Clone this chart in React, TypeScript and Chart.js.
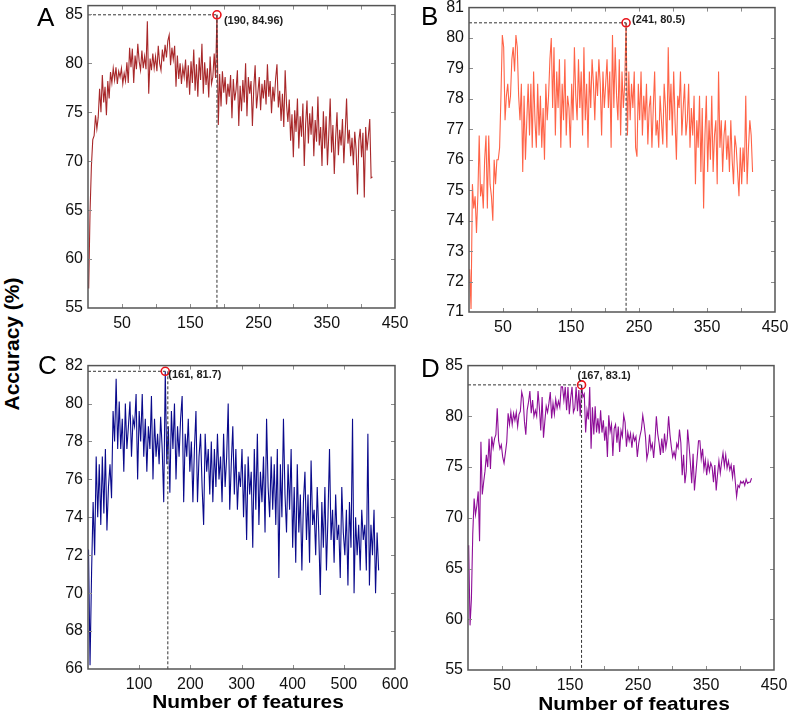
import React, { useEffect, useRef } from 'react';
import { Chart, registerables } from 'chart.js';

Chart.register(...registerables);

// ---------------- DATA ----------------
// Panel A: accuracy (%) per number of features (features = 1, 3, 5, ...)
const featureStartA = 1;
const featureStepA = 2;
const accuracyA = [
  57.0, 64.8, 69.5, 72.2, 72.6, 74.7, 73.3, 74.5, 77.4, 75.0,
  78.8, 76.0, 77.6, 74.7, 78.2, 76.4, 79.1, 78.0, 79.5, 78.3,
  79.6, 77.9, 79.2, 78.6, 79.5, 77.9, 79.0, 78.2, 80.1, 78.0,
  81.6, 79.6, 81.5, 78.0, 80.8, 79.4, 82.0, 80.2, 79.3, 81.3,
  79.5, 80.7, 79.4, 84.3, 76.9, 80.5, 79.3, 81.0, 79.5, 80.7,
  79.2, 81.8, 80.0, 79.3, 81.4, 80.2, 81.9, 80.6, 82.3, 82.9,
  79.8, 81.6, 80.4, 81.8, 77.6, 80.8, 78.4, 80.0, 77.9, 79.6,
  78.6, 80.4, 77.5, 79.8, 76.8, 80.2, 78.0, 81.4, 77.2, 79.9,
  76.6, 80.6, 78.3, 82.0, 76.9, 80.1, 77.8, 79.5, 76.5, 80.7,
  77.9, 78.6, 81.0, 78.5, 84.96, 73.7, 78.9, 75.6, 79.2, 77.0,
  78.6, 75.8, 77.9, 76.6, 78.8, 74.4, 78.4, 76.2, 77.3, 79.3,
  73.6, 77.7, 75.1, 78.3, 76.0, 80.0, 74.6, 78.6, 76.9, 78.2,
  73.6, 77.5, 79.8, 75.4, 77.0, 78.6, 75.2, 77.9, 76.4, 78.3,
  75.8, 79.9, 76.6, 78.2, 74.9, 77.6, 76.1, 78.4, 79.9, 75.5,
  77.2, 74.1, 76.9, 73.5, 79.3, 75.8, 74.0, 76.3, 72.1, 74.8,
  70.4, 75.2, 73.0, 76.4, 71.3, 74.6, 72.5, 75.9, 69.5, 73.8,
  76.2, 71.8, 74.9, 72.7, 75.6, 70.5, 74.2, 72.0, 76.6, 71.6,
  73.5, 69.5, 75.1, 71.3, 74.6, 69.6, 72.8, 76.4, 70.9, 73.7,
  68.7, 72.4, 75.0, 70.6, 73.2, 71.6, 74.3, 69.8, 72.9, 76.4,
  71.8, 73.2, 70.5, 72.4, 69.6, 73.0, 71.2, 66.6, 72.1, 73.3,
  70.4, 72.9, 66.3, 73.5, 71.1, 72.6, 74.3, 68.3, 68.4,
];

// Panel B
const featureStartB = 1;
const featureStepB = 2;
const accuracyB = [
  72.4, 71.1, 75.2, 74.4, 74.8, 73.6, 74.8, 76.8, 74.8, 75.2,
  74.4, 76.0, 76.8, 74.4, 76.8, 75.2, 74.8, 74.0, 76.0, 75.2,
  76.0, 76.0, 76.4, 78.1, 80.1, 79.7, 77.3, 78.1, 78.5, 77.7,
  78.1, 79.3, 79.7, 78.9, 80.1, 79.7, 78.1, 77.3, 78.5, 75.6,
  78.1, 76.0, 77.3, 78.5, 76.8, 78.5, 76.4, 78.9, 77.3, 76.4,
  78.5, 76.8, 78.1, 76.4, 77.7, 76.0, 78.5, 77.3, 78.1, 79.3,
  80.0, 77.7, 79.7, 76.8, 78.9, 77.7, 79.3, 76.4, 78.5, 77.3,
  79.3, 76.8, 78.1, 77.7, 76.4, 78.5, 77.3, 79.7, 78.1, 77.3,
  79.3, 77.7, 78.9, 76.8, 79.7, 77.3, 78.5, 76.4, 78.9, 77.7,
  79.3, 78.5, 77.3, 78.9, 78.1, 79.3, 78.5, 76.8, 78.9, 77.7,
  78.5, 79.3, 77.7, 78.9, 76.4, 80.1, 77.7, 79.7, 78.1, 77.3,
  79.3, 76.8, 78.9, 77.7, 78.5, 80.5, 76.8, 78.9, 77.3, 78.5,
  77.7, 78.9, 76.4, 76.1, 78.5, 77.3, 78.9, 76.8, 78.1, 77.3,
  78.5, 76.5, 77.7, 78.1, 76.4, 77.7, 78.9, 76.8, 77.3, 76.4,
  78.1, 77.3, 76.5, 78.5, 77.7, 76.4, 79.7, 77.3, 78.5, 76.8,
  78.9, 77.3, 76.0, 78.1, 77.7, 78.9, 76.8, 77.7, 78.5, 76.8,
  77.3, 78.5, 76.4, 77.7, 76.8, 78.1, 75.2, 77.3, 76.4, 78.1,
  75.6, 77.7, 74.4, 76.8, 78.1, 75.6, 77.3, 76.0, 78.1, 75.6,
  76.8, 77.3, 75.2, 78.9, 76.4, 77.3, 75.6, 76.8, 77.3, 76.0,
  76.8, 75.6, 77.3, 76.0, 75.2, 76.8, 76.4, 75.6, 74.8, 76.4,
  75.2, 76.4, 75.6, 78.1, 75.2, 76.4, 77.3, 76.8, 75.6,
];

// Panel C (features = 1, 4, 7, ...)
const featureStartC = 1;
const featureStepC = 3;
const accuracyC = [
  72.3, 66.2, 71.1, 74.8, 72.0, 77.2, 74.0, 76.8, 73.6, 77.2,
  74.2, 77.6, 73.3, 75.6, 76.8, 75.0, 79.6, 78.0, 81.3, 77.6,
  80.1, 77.6, 79.2, 76.4, 80.0, 77.6, 78.8, 80.1, 77.2, 79.2,
  78.8, 80.5, 76.0, 79.6, 78.0, 80.5, 77.2, 79.2, 76.4, 78.8,
  77.6, 80.4, 76.0, 79.2, 77.2, 78.4, 76.8, 79.3, 77.6, 74.8,
  81.7, 76.8, 78.8, 75.3, 79.6, 77.6, 80.0, 76.0, 78.8, 77.2,
  79.2, 80.4, 74.8, 78.4, 77.2, 79.2, 76.4, 78.0, 74.8, 77.6,
  79.6, 74.8, 77.2, 78.4, 75.6, 73.6, 78.4, 76.4, 77.6, 75.2,
  78.0, 74.8, 77.6, 75.6, 78.4, 76.0, 77.2, 74.8, 78.4, 75.6,
  77.2, 80.0, 74.4, 76.8, 78.8, 75.2, 77.6, 74.4, 76.4, 75.6,
  77.6, 74.0, 76.8, 72.8, 77.2, 75.2, 76.4, 72.4, 77.6, 74.4,
  78.4, 73.6, 76.4, 74.8, 77.2, 73.2, 79.2, 75.6, 74.0, 77.2,
  74.4, 76.8, 73.6, 77.6, 70.8, 76.8, 74.0, 79.2, 75.2, 73.2,
  76.8, 74.4, 77.6, 72.4, 75.6, 71.6, 76.8, 73.2, 75.2, 71.2,
  74.8, 76.4, 72.8, 75.2, 71.6, 77.0, 73.6, 74.4, 72.0, 75.6,
  73.2, 69.9, 74.8, 72.4, 75.6, 71.2, 74.0, 77.6, 72.8, 74.4,
  71.6, 75.2, 72.8, 73.6, 70.8, 75.6, 73.2, 72.0, 74.4, 70.4,
  74.8, 72.4, 79.2, 70.0, 74.0, 72.0, 73.6, 71.2, 74.4, 72.8,
  73.6, 71.2, 78.4, 70.4, 73.6, 72.0, 74.4, 70.0, 73.2, 71.2,
];

// Panel D
const featureStartD = 1;
const featureStepD = 2;
const accuracyD = [
  67.3, 59.4, 62.0, 68.4, 71.9, 70.3, 71.2, 72.6, 67.7, 77.5,
  72.3, 73.5, 74.6, 76.2, 75.0, 77.8, 74.8, 78.0, 76.9, 77.8,
  78.2, 80.8, 77.6, 76.8, 77.2, 76.0, 75.4, 76.4, 77.5, 80.3,
  79.2, 80.4, 79.2, 80.3, 79.6, 80.4, 79.0, 80.2, 80.5, 82.4,
  81.8, 79.5, 78.2, 80.6, 81.4, 82.5, 80.3, 81.6, 80.0, 80.6,
  80.0, 82.5, 80.8, 78.6, 81.9, 77.9, 79.5, 81.0, 80.4, 81.3,
  82.4, 79.8, 81.3, 80.2, 81.7, 80.8, 81.5, 80.9, 82.9, 82.9,
  81.6, 82.9, 80.6, 82.9, 80.2, 81.8, 82.9, 80.4, 80.8, 82.9,
  80.5, 82.6, 80.0, 83.1, 81.9, 82.2, 78.4, 80.6, 79.7, 82.9,
  76.8, 80.9, 78.2, 81.0, 78.4, 79.8, 78.3, 80.6, 78.4, 79.6,
  77.6, 79.0, 76.0, 80.1, 78.5, 79.2, 76.1, 78.8, 79.2, 77.4,
  79.0, 76.5, 78.6, 78.0, 80.1, 79.4, 77.0, 78.4, 77.6, 78.3,
  76.9, 78.2, 77.6, 78.0, 76.0, 77.3, 78.1, 78.7, 80.1, 79.2,
  78.0, 75.8, 76.5, 78.2, 76.8, 77.3, 75.9, 77.6, 80.0, 78.3,
  77.4, 76.2, 77.8, 76.4, 78.3, 76.9, 77.8, 80.0, 78.2, 77.0,
  76.0, 76.5, 75.9, 77.3, 76.9, 78.7, 77.4, 74.2, 76.2, 73.4,
  74.6, 78.7, 77.2, 75.4, 73.4, 76.3, 72.7, 74.3, 75.9, 77.6,
  77.6, 75.8, 76.8, 74.8, 75.7, 74.2, 75.5, 74.6, 75.4, 75.0,
  73.5, 75.2, 72.7, 74.3, 75.6, 74.4, 75.5, 76.4, 75.1, 76.2,
  74.9, 75.6, 74.7, 75.2, 74.0, 75.2, 73.6, 72.1, 73.2, 73.0,
  73.6, 73.4, 73.6, 73.2, 73.8, 73.4, 73.5, 73.5, 73.9,
];

// Tick labels
const xTickLabelsA = [50, 150, 250, 350, 450];
const yTickLabelsA = [55, 60, 65, 70, 75, 80, 85];
const xTickLabelsB = [50, 150, 250, 350, 450];
const yTickLabelsB = [71, 72, 73, 74, 75, 76, 77, 78, 79, 80, 81];
const xTickLabelsC = [100, 200, 300, 400, 500, 600];
const yTickLabelsC = [66, 68, 70, 72, 74, 76, 78, 80, 82];
const xTickLabelsD = [50, 150, 250, 350, 450];
const yTickLabelsD = [55, 60, 65, 70, 75, 80, 85];

// Peak annotations
const peakLabelA = '(190, 84.96)';
const peakLabelB = '(241, 80.5)';
const peakLabelC = '(161, 81.7)';
const peakLabelD = '(167, 83.1)';

// ---------------- LAYOUT / STYLE ----------------
const FONT = '"Liberation Sans", Arial, Helvetica, sans-serif';
const Y_W = 50;
const X_H = 30;
const PAD_T = 12;
const PAD_R = 22;

type PanelCfg = {
  key: string;
  values: number[];
  start: number;
  step: number;
  color: string;
  xMin: number; xMax: number; xStep: number; xLabels: number[];
  yMin: number; yMax: number; yStep: number; yLabels: number[];
  peakLabel: string;
  guideX?: number;
  dx: number; dy: number;
  area: { L: number; T: number; R: number; B: number };
};

const panels: PanelCfg[] = [
  {
    key: 'A', values: accuracyA, start: featureStartA, step: featureStepA, color: '#A8282A',
    xMin: 0, xMax: 450, xStep: 50, xLabels: xTickLabelsA,
    yMin: 55, yMax: 85.9, yStep: 5, yLabels: yTickLabelsA,
    peakLabel: peakLabelA, dx: 7, dy: 6,
    area: { L: 88, T: 3, R: 395, B: 308 },
  },
  {
    key: 'B', values: accuracyB, start: featureStartB, step: featureStepB, color: '#FF6347',
    xMin: 0, xMax: 450, xStep: 50, xLabels: xTickLabelsB,
    yMin: 71, yMax: 81, yStep: 1, yLabels: yTickLabelsB,
    peakLabel: peakLabelB, dx: 6, dy: -3,
    area: { L: 469, T: 5, R: 775, B: 312 },
  },
  {
    key: 'C', values: accuracyC, start: featureStartC, step: featureStepC, color: '#0A0A8C',
    xMin: 0, xMax: 600, xStep: 100, xLabels: xTickLabelsC,
    yMin: 66, yMax: 82, yStep: 2, yLabels: yTickLabelsC,
    peakLabel: peakLabelC, guideX: 156, dx: 3, dy: 4,
    area: { L: 88, T: 363, R: 395, B: 669 },
  },
  {
    key: 'D', values: accuracyD, start: featureStartD, step: featureStepD, color: '#8E0E98',
    xMin: 0, xMax: 450, xStep: 50, xLabels: xTickLabelsD,
    yMin: 55, yMax: 85, yStep: 5, yLabels: yTickLabelsD,
    peakLabel: peakLabelD, dx: -4, dy: -9,
    area: { L: 468, T: 363, R: 774, B: 670 },
  },
];

const isMultiple = (v: number, s: number) => Math.abs(v / s - Math.round(v / s)) < 1e-6;

const framePlugin = {
  id: 'frame',
  afterDatasetsDraw(chart: any, _args: any, opts: any) {
    const { ctx, chartArea } = chart;
    const { left, top, right, bottom } = chartArea;
    const xs = chart.scales.x;
    const ys = chart.scales.y;
    ctx.save();
    ctx.strokeStyle = '#8c8c8c';
    ctx.lineWidth = 1;
    ctx.beginPath();
    xs.ticks.forEach((t: any) => {
      if (!isMultiple(t.value, opts.xStep)) return;
      const px = Math.round(xs.getPixelForValue(t.value)) + 0.5;
      if (px <= left + 2 || px >= right - 2) return;
      ctx.moveTo(px, bottom); ctx.lineTo(px, bottom - 4);
      ctx.moveTo(px, top); ctx.lineTo(px, top + 4);
    });
    ys.ticks.forEach((t: any) => {
      if (!isMultiple(t.value, opts.yStep)) return;
      const py = Math.round(ys.getPixelForValue(t.value)) + 0.5;
      if (py <= top + 2 || py >= bottom - 2) return;
      ctx.moveTo(left, py); ctx.lineTo(left + 4, py);
      ctx.moveTo(right, py); ctx.lineTo(right - 4, py);
    });
    ctx.stroke();
    ctx.strokeStyle = '#555555';
    ctx.lineWidth = 1.5;
    ctx.strokeRect(left, top, right - left, bottom - top);
    const px = xs.getPixelForValue(opts.peakX);
    const py = ys.getPixelForValue(opts.peakY);
    ctx.font = `bold 11px ${FONT}`;
    ctx.fillStyle = '#1e1e1e';
    ctx.textAlign = 'left';
    ctx.textBaseline = 'middle';
    ctx.fillText(opts.label, px + opts.dx, py + opts.dy);
    ctx.restore();
  },
};

function Panel({ cfg }: { cfg: PanelCfg }) {
  const ref = useRef<HTMLCanvasElement>(null);
  const { L, T, R, B } = cfg.area;
  const cLeft = L - Y_W;
  const cTop = T - PAD_T;
  const w = R + PAD_R - cLeft;
  const h = B + X_H - cTop;

  useEffect(() => {
    const points = cfg.values.map((v, i) => ({ x: cfg.start + i * cfg.step, y: v }));
    let peakIdx = 0;
    cfg.values.forEach((v, i) => { if (v > cfg.values[peakIdx]) peakIdx = i; });
    const peak = points[peakIdx];
    const gx = cfg.guideX ?? peak.x;
    const chart = new Chart(ref.current as HTMLCanvasElement, {
      type: 'line',
      data: {
        datasets: [
          {
            data: [{ x: peak.x, y: peak.y }],
            showLine: false,
            pointRadius: 4,
            pointHoverRadius: 4,
            pointBorderColor: '#E8141B',
            pointBackgroundColor: 'rgba(255,255,255,0)',
            pointBorderWidth: 1.6,
            order: 0,
          },
          {
            data: [{ x: cfg.xMin, y: peak.y }, { x: peak.x, y: peak.y }],
            borderColor: '#333333',
            borderWidth: 1,
            borderDash: [3, 2],
            pointRadius: 0,
            order: 1,
          },
          {
            data: [{ x: gx, y: peak.y }, { x: gx, y: cfg.yMin }],
            borderColor: '#333333',
            borderWidth: 1,
            borderDash: [3, 2],
            pointRadius: 0,
            order: 1,
          },
          {
            data: points,
            borderColor: cfg.color,
            borderWidth: 1.1,
            pointRadius: 0,
            tension: 0,
            order: 2,
          },
        ],
      },
      options: {
        responsive: false,
        animation: false,
        events: [],
        layout: { padding: { left: 0, top: PAD_T, right: PAD_R, bottom: 0 } },
        plugins: {
          legend: { display: false },
          tooltip: { enabled: false },
          frame: {
            xStep: cfg.xStep, yStep: cfg.yStep,
            peakX: peak.x, peakY: peak.y, label: cfg.peakLabel, dx: cfg.dx, dy: cfg.dy,
          },
        } as any,
        scales: {
          x: {
            type: 'linear',
            min: cfg.xMin,
            max: cfg.xMax,
            grid: { display: false, drawTicks: false },
            border: { display: false },
            ticks: {
              stepSize: cfg.xStep,
              includeBounds: false,
              autoSkip: false,
              maxRotation: 0,
              padding: 6,
              color: '#111111',
              font: { family: FONT, size: 16 },
              callback: (v: any) => (cfg.xLabels.includes(Number(v)) ? String(v) : ''),
            },
            afterFit: (s: any) => { s.height = X_H; },
          },
          y: {
            type: 'linear',
            min: cfg.yMin,
            max: cfg.yMax,
            grid: { display: false, drawTicks: false },
            border: { display: false },
            ticks: {
              stepSize: cfg.yStep,
              includeBounds: false,
              autoSkip: false,
              padding: 5,
              color: '#111111',
              font: { family: FONT, size: 16 },
              callback: (v: any) => (cfg.yLabels.includes(Number(v)) ? String(v) : ''),
            },
            afterFit: (s: any) => { s.width = Y_W; },
          },
        },
      },
      plugins: [framePlugin],
    } as any);
    return () => chart.destroy();
  }, []);

  return (
    <canvas
      ref={ref}
      width={w}
      height={h}
      style={{ position: 'absolute', left: cLeft, top: cTop, width: w, height: h }}
    />
  );
}

const letterStyle = (left: number, top: number): React.CSSProperties => ({
  position: 'absolute', left, top, fontFamily: FONT, fontSize: 26, lineHeight: '26px',
  color: '#000', whiteSpace: 'nowrap',
});

export default function App() {
  return (
    <div style={{ position: 'fixed', left: 0, top: 0, width: 790, height: 713, overflow: 'hidden', background: '#fff' }}>
      {panels.map((p) => <Panel key={p.key} cfg={p} />)}
      <div style={letterStyle(37, 3.6)}>A</div>
      <div style={letterStyle(421, 2.6)}>B</div>
      <div style={letterStyle(38, 351.6)}>C</div>
      <div style={letterStyle(421, 354.6)}>D</div>
      <div style={{
        position: 'absolute', left: 247.5, top: 691.8, fontFamily: FONT, fontWeight: 'bold', fontSize: 19,
        lineHeight: '19px', whiteSpace: 'nowrap', color: '#000', transform: 'translateX(-50%) scaleX(1.1)',
      }}>Number of features</div>
      <div style={{
        position: 'absolute', left: 634, top: 693.5, fontFamily: FONT, fontWeight: 'bold', fontSize: 19,
        lineHeight: '19px', whiteSpace: 'nowrap', color: '#000', transform: 'translateX(-50%) scaleX(1.1)',
      }}>Number of features</div>
      <div style={{
        position: 'absolute', left: 10.5, top: 343.5, fontFamily: FONT, fontWeight: 'bold', fontSize: 21,
        lineHeight: '21px', whiteSpace: 'nowrap', color: '#000',
        transform: 'translate(-50%, -50%) rotate(-90deg)',
      }}>Accuracy (%)</div>
    </div>
  );
}
